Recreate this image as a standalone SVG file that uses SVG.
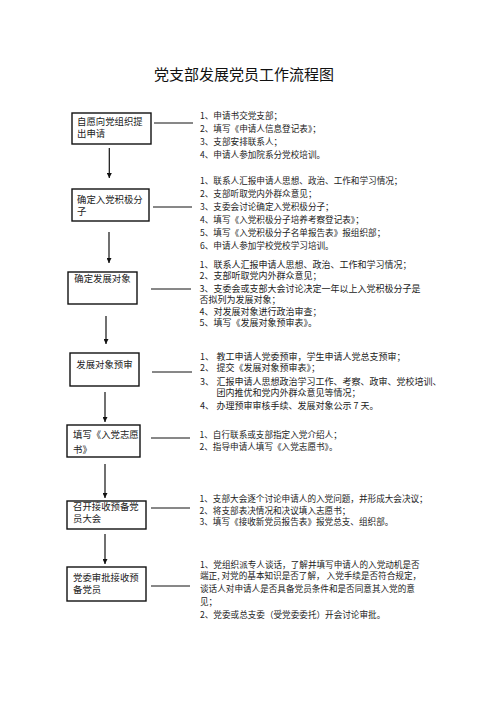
<svg xmlns="http://www.w3.org/2000/svg" width="496" height="702" viewBox="0 0 496 702">
<defs>
<marker id="ah" viewBox="0 0 10 10" refX="10" refY="5" markerWidth="5" markerHeight="5" orient="auto" markerUnits="userSpaceOnUse">
<path d="M0,0 L10,5 L0,10 Z" fill="#111"/>
</marker>
<style>
text{font-family:"Noto Sans CJK SC","Noto Sans CJK JP",sans-serif;fill:#222}
.title{font-size:15px;fill:#111}
.bt{font-size:9.4px}
.t{font-size:8.6px}
.t9{font-size:9px}
.box{fill:#fff;stroke:#111;stroke-width:1.4}
.c{stroke:#111;stroke-width:1;fill:none}
.a{stroke:#111;stroke-width:1.2;fill:none;marker-end:url(#ah)}
</style>
</defs>
<rect width="496" height="702" fill="#fff"/>
<text class="title" x="244" y="80" text-anchor="middle">党支部发展党员工作流程图</text>

<g id="connectors">
<line class="c" x1="154" y1="123" x2="193" y2="123"/>
<line class="c" x1="153" y1="207" x2="192" y2="207"/>
<line class="c" x1="151" y1="289" x2="191" y2="289"/>
<line class="c" x1="152" y1="372" x2="192" y2="372"/>
<line class="c" x1="151" y1="438" x2="190" y2="438"/>
<line class="c" x1="151" y1="508" x2="190" y2="508"/>
<line class="c" x1="151" y1="586" x2="190" y2="586"/>
<line class="a" x1="109.3" y1="148" x2="109.3" y2="178"/>
<line class="a" x1="109" y1="232" x2="109" y2="263"/>
<line class="a" x1="106" y1="316" x2="106" y2="344"/>
<line class="a" x1="105" y1="392" x2="105" y2="422"/>
<line class="a" x1="105" y1="464" x2="105" y2="498"/>
<line class="a" x1="105" y1="534" x2="105" y2="564"/>
</g>

<g id="n1">
<rect class="box" x="72" y="113" width="79" height="31"/>
<text class="bt" x="77" y="125">自愿向党组织提</text>
<text class="bt" x="77" y="137">出申请</text>
</g>
<g id="n1-notes">
<text class="t" x="200" y="118.5">1、申请书交党支部；</text>
<text class="t" x="200" y="131.5">2、填写《申请人信息登记表》；</text>
<text class="t" x="200" y="144.5">3、支部安排联系人；</text>
<text class="t" x="200" y="157.5">4、申请人参加院系分党校培训。</text>
</g>

<g id="n2">
<rect class="box" x="72" y="189" width="77" height="32"/>
<text class="bt" x="77" y="203">确定入党积极分</text>
<text class="bt" x="77" y="215">子</text>
</g>
<g id="n2-notes">
<text class="t" x="200" y="183.5">1、联系人汇报申请人思想、政治、工作和学习情况；</text>
<text class="t" x="200" y="196.5">2、支部听取党内外群众意见；</text>
<text class="t" x="200" y="209.5">3、支委会讨论确定入党积极分子；</text>
<text class="t" x="200" y="222.5">4、填写《入党积极分子培养考察登记表》；</text>
<text class="t" x="200" y="235.5">5、填写《入党积极分子名单报告表》报组织部；</text>
<text class="t" x="200" y="248.5">6、申请人参加学校党校学习培训。</text>
</g>

<g id="n3">
<rect class="box" x="68" y="272" width="69" height="32"/>
<text class="bt" x="102.5" y="282" text-anchor="middle">确定发展对象</text>
</g>
<g id="n3-notes">
<text class="t9" x="199.5" y="267.5">1、联系人汇报申请人思想、政治、工作和学习情况；</text>
<text class="t9" x="199.5" y="279">2、支部听取党内外群众意见；</text>
<text class="t9" x="199.5" y="291.5">3、支委会或支部大会讨论决定一年以上入党积极分子是</text>
<text class="t9" x="199.5" y="303">否拟列为发展对象；</text>
<text class="t9" x="199.5" y="314.5">4、对发展对象进行政治审查；</text>
<text class="t9" x="199.5" y="325.5">5、填写《发展对象预审表》。</text>
</g>

<g id="n4">
<rect class="box" x="70" y="353" width="69" height="33"/>
<text class="bt" x="104.5" y="367.5" text-anchor="middle">发展对象预审</text>
</g>
<g id="n4-notes">
<text class="t9" x="200" y="359.5">1、</text><text class="t9" x="216.5" y="359.5">教工申请人党委预审，学生申请人党总支预审；</text>
<text class="t9" x="200" y="370.5">2、</text><text class="t9" x="216.5" y="370.5">提交《发展对象预审表》；</text>
<text class="t9" x="200" y="384.5">3、</text><text class="t9" x="216.5" y="384.5">汇报申请人思想政治学习工作、考察、政审、党校培训、</text>
<text class="t9" x="216.5" y="396">团内推优和党内外群众意见等情况；</text>
<text class="t9" x="200" y="408.5">4、</text><text class="t9" x="216.5" y="408.5">办理预审审核手续、发展对象公示 7 天。</text>
</g>

<g id="n5">
<rect class="box" x="67" y="425" width="73" height="32"/>
<text class="bt" x="73" y="438">填写《入党志愿</text>
<text class="bt" x="73" y="452.5">书》</text>
</g>
<g id="n5-notes">
<text class="t" x="199.5" y="437.5">1、自行联系或支部指定入党介绍人；</text>
<text class="t" x="199.5" y="450">2、指导申请人填写《入党志愿书》。</text>
</g>

<g id="n6">
<rect class="box" x="67" y="501" width="79" height="28"/>
<text class="bt" x="73" y="509.5">召开接收预备党</text>
<text class="bt" x="73" y="521.5">员大会</text>
</g>
<g id="n6-notes">
<text class="t" x="199.5" y="501.5">1、支部大会逐个讨论申请人的入党问题，并形成大会决议；</text>
<text class="t" x="199.5" y="513.5">2、将支部表决情况和决议填入志愿书；</text>
<text class="t" x="199.5" y="525">3、填写《接收新党员报告表》报党总支、组织部。</text>
</g>

<g id="n7">
<rect class="box" x="67" y="567" width="79" height="34"/>
<text class="bt" x="73" y="581">党委审批接收预</text>
<text class="bt" x="73" y="593">备党员</text>
</g>
<g id="n7-notes">
<text class="t" x="200" y="567.5">1、党组织派专人谈话，了解并填写申请人的入党动机是否</text>
<text class="t" x="200" y="579">端正, 对党的基本知识是否了解， 入党手续是否符合规定，</text>
<text class="t" x="200" y="591.5">谈话人对申请人是否具备党员条件和是否同意其入党的意</text>
<text class="t" x="200" y="604.5">见；</text>
<text class="t" x="200" y="618">2、党委或总支委（受党委委托）开会讨论审批。</text>
</g>
</svg>
